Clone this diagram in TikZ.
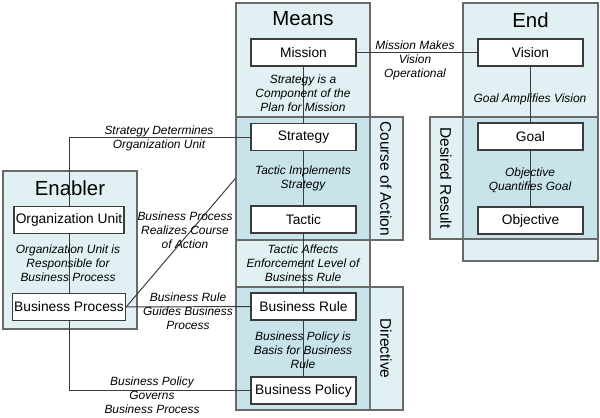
\documentclass[tikz,border=0pt]{standalone}
\usepackage{fontspec}
\setmainfont{Liberation Sans}
\definecolor{boxfill}{RGB}{120,190,203}
\definecolor{boxline}{RGB}{105,105,105}
\definecolor{edge}{RGB}{60,60,60}
\begin{document}
\begin{tikzpicture}[x=0.025cm, y=-0.025cm,
  area/.style={draw=boxline, line width=0.9pt, fill=boxfill, fill opacity=0.23, inner sep=0pt},
  item/.style={draw=edge, line width=0.9pt, fill=white, inner sep=0pt, minimum height=0.675cm,
    font=\fontsize{9.8}{11}\selectfont},
  title/.style={font=\fontsize{14.5}{16}\selectfont},
  side/.style={rotate=-90, font=\fontsize{11}{13}\selectfont},
  lbl/.style={align=center, inner sep=0pt, font=\fontsize{8.5}{10}\selectfont\itshape},
  link/.style={draw=edge, line width=0.7pt}]
  \useasboundingbox (0,0) rectangle (600,417);
  % shaded groups
  \node[area, minimum width=3.35cm, minimum height=10.175cm] (means) at (303,206.5) {};
  \node[area, minimum width=4.175cm, minimum height=3.075cm] (coa) at (319.5,178.5) {};
  \node[area, minimum width=4.175cm, minimum height=3.075cm] (directive) at (319.5,348.5) {};
  \node[area, minimum width=3.375cm, minimum height=6.45cm] (end) at (530.5,132) {};
  \node[area, minimum width=4.2cm, minimum height=3.05cm] (desired) at (514,178) {};
  \node[area, minimum width=3.35cm, minimum height=3.95cm] (enabler) at (70,250) {};
  \node[title] (meansT) at (303,19) {Means};
  \node[title] (endT) at (530.5,20) {End};
  \node[title] (enablerT) at (70,188) {Enabler};
  \node[side] (coaT) at (386,178.5) {Course of Action};
  \node[side] (desiredT) at (446,178) {Desired Result};
  \node[side] (directiveT) at (386,348.5) {Directive};
  % elements
  \node[item, minimum width=2.625cm] (mission) at (303.5,52.5) {Mission};
  \node[item, minimum width=2.625cm] (strategy) at (303.5,137) {Strategy};
  \node[item, minimum width=2.625cm] (tactic) at (303.5,219.5) {Tactic};
  \node[item, minimum width=2.625cm] (rule) at (303.5,306.5) {Business Rule};
  \node[item, minimum width=2.625cm] (policy) at (303.5,390.5) {Business Policy};
  \node[item, minimum width=2.625cm] (vision) at (530.5,52.5) {Vision};
  \node[item, minimum width=2.625cm] (goal) at (530.5,136.5) {Goal};
  \node[item, minimum width=2.625cm] (objective) at (530.5,220.5) {Objective};
  \node[item, minimum width=2.75cm] (orgunit) at (69,220) {Organization Unit};
  \node[item, minimum width=2.825cm] (process) at (69,307) {Business Process};
  % relations
  \draw[link] (mission) -- (strategy);
  \draw[link] (strategy) -- (tactic);
  \draw[link] (tactic) -- (rule);
  \draw[link] (rule) -- (policy);
  \draw[link] (mission) -- (vision);
  \draw[link] (vision) -- (goal);
  \draw[link] (goal) -- (objective);
  \draw[link] (strategy.west) -| (orgunit.north);
  \draw[link] (orgunit) -- (process);
  \draw[link] (process.east) -- (coa.west);
  \draw[link] (process) -- (rule);
  \draw[link] (process.south) |- (policy.west);
  % relation labels
  \node[lbl] (lStratMission) at (303,93) {Strategy is a\\Component of the\\Plan for Mission};
  \node[lbl] (lMissionVision) at (415,60) {Mission Makes\\Vision\\Operational};
  \node[lbl] (lGoalVision) at (530,99) {Goal Amplifies Vision};
  \node[lbl] (lObjGoal) at (530,180) {Objective\\Quantifies Goal};
  \node[lbl] (lTacticStrat) at (303,178) {Tactic Implements\\Strategy};
  \node[lbl] (lTacticRule) at (303,263) {Tactic Affects\\Enforcement Level of\\Business Rule};
  \node[lbl] (lPolicyRule) at (303,350) {Business Policy is\\Basis for Business\\Rule};
  \node[lbl] (lStratOrg) at (159,138) {Strategy Determines\\Organization Unit};
  \node[lbl] (lOrgProc) at (68,263) {Organization Unit is\\Responsible for\\Business Process};
  \node[lbl] (lProcCoa) at (185,230) {Business Process\\Realizes Course\\of Action};
  \node[lbl] (lRuleProc) at (188,311) {Business Rule\\Guides Business\\Process};
  \node[lbl] (lPolicyProc) at (152,395) {Business Policy\\Governs\\Business Process};
\end{tikzpicture}
\end{document}
